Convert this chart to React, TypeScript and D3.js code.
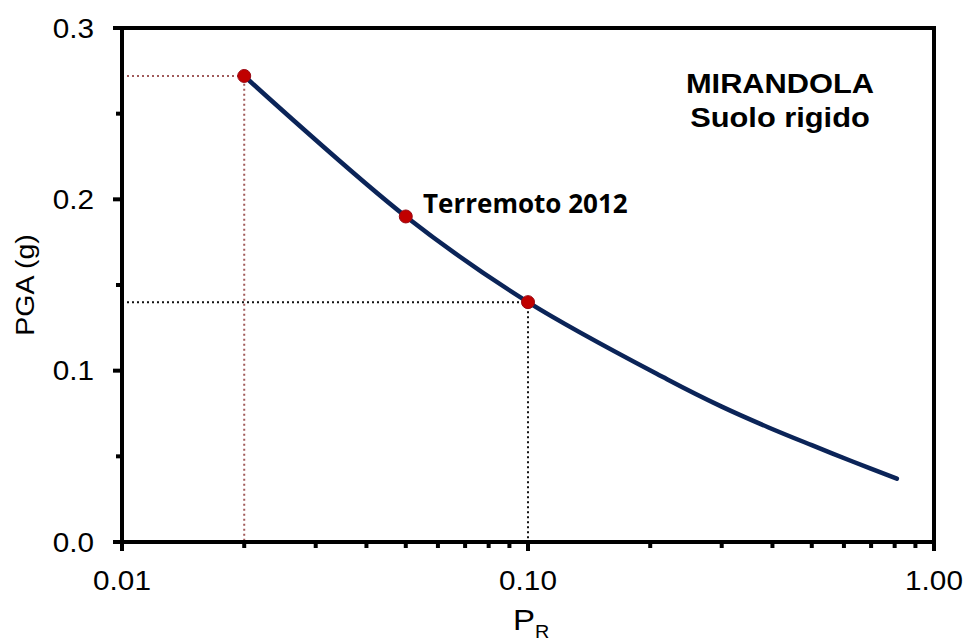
import React from "react";
import * as d3 from "d3";

const prValues = [0.02, 0.05, 0.1, 0.22, 0.3, 0.39, 0.5, 0.63, 0.81];
const pgaValues = [0.272, 0.19, 0.14, 0.095, 0.079, 0.067, 0.0565, 0.047, 0.037];
const markerPR = [0.02, 0.05, 0.1];
const markerPGA = [0.272, 0.19, 0.14];
const yTicks = [0.0, 0.1, 0.2, 0.3];
const yMinor = [0.05, 0.15, 0.25];
const xTicks = [0.01, 0.1, 1.0];
const xTickLabels = ["0.01", "0.10", "1.00"];

const W = 980;
const H = 642;
const L = 122, R = 934, T = 28, B = 542;
const SX = 1.1;

export default function App() {
  const x = d3.scaleLog().domain([0.01, 1]).range([L, R]);
  const y = d3.scaleLinear().domain([0, 0.3]).range([B, T]);
  const pts = prValues.map((p, i) => [p, pgaValues[i]] as [number, number]);
  const line = d3
    .line<[number, number]>()
    .x((d) => x(d[0]))
    .y((d) => y(d[1]))
    .curve(d3.curveCatmullRom.alpha(0.5));
  const minorX: number[] = [];
  for (const dec of [0.01, 0.1]) for (let k = 2; k <= 9; k++) minorX.push(dec * k);

  const axisFont = "'Liberation Sans', Arial, sans-serif";
  return (
    <svg width={W} height={H} style={{ position: "absolute", left: 0, top: 0, background: "#fff" }}>
      <rect x={0} y={0} width={W} height={H} fill="#fff" />
      {/* reference dotted lines */}
      <path
        d={`M${x(0.01)},${y(markerPGA[0])}H${x(markerPR[0])}V${y(0)}`}
        fill="none"
        stroke="#a05a5a"
        strokeWidth={2}
        strokeDasharray="2 3"
      />
      <path
        d={`M${x(0.01)},${y(markerPGA[2])}H${x(markerPR[2])}V${y(0)}`}
        fill="none"
        stroke="#111"
        strokeWidth={2}
        strokeDasharray="2 3"
      />
      {/* curve */}
      <path d={line(pts) || ""} fill="none" stroke="#0b2458" strokeWidth={4.5} strokeLinecap="round" />
      {markerPR.map((p, i) => (
        <circle key={i} cx={x(p)} cy={y(markerPGA[i])} r={6.5} fill="#c00000" stroke="#9a0a14" strokeWidth={1} />
      ))}
      {/* frame */}
      <rect x={L} y={T} width={R - L} height={B - T} fill="none" stroke="#000" strokeWidth={4} />
      {/* y ticks */}
      {yTicks.map((t) => (
        <line key={"yt" + t} x1={L - 9} x2={L} y1={y(t)} y2={y(t)} stroke="#000" strokeWidth={4} />
      ))}
      {yMinor.map((t) => (
        <line key={"ym" + t} x1={L - 6} x2={L} y1={y(t)} y2={y(t)} stroke="#000" strokeWidth={4} />
      ))}
      {yTicks.map((t) => (
        <text
          key={"yl" + t}
          transform={`translate(${L - 28},${y(t) + 9.5}) scale(${SX},1)`}
          textAnchor="end"
          fontFamily={axisFont}
          fontSize={27}
        >
          {t.toFixed(1)}
        </text>
      ))}
      {/* x ticks */}
      {xTicks.map((t) => (
        <line key={"xt" + t} x1={x(t)} x2={x(t)} y1={B} y2={B + 9} stroke="#000" strokeWidth={4} />
      ))}
      {minorX.map((t) => (
        <line key={"xm" + t} x1={x(t)} x2={x(t)} y1={B} y2={B + 6} stroke="#000" strokeWidth={4} />
      ))}
      {xTicks.map((t, i) => (
        <text
          key={"xl" + t}
          transform={`translate(${x(t)},${590}) scale(${SX},1)`}
          textAnchor="middle"
          fontFamily={axisFont}
          fontSize={27}
        >
          {xTickLabels[i]}
        </text>
      ))}
      {/* axis titles */}
      <text
        transform={`translate(${34},${(T + B) / 2}) rotate(-90) scale(${SX},1)`}
        textAnchor="middle"
        fontFamily={axisFont}
        fontSize={26}
      >
        PGA (g)
      </text>
      <text transform={`translate(${513},${630}) scale(${SX},1)`} fontFamily={axisFont} fontSize={30}>
        P
        <tspan fontSize={18} dy={8}>
          R
        </tspan>
      </text>
      {/* annotations */}
      <text
        transform={`translate(${780},${93}) scale(${SX},1)`}
        textAnchor="middle"
        fontFamily={axisFont}
        fontWeight="bold"
        fontSize={28}
      >
        MIRANDOLA
      </text>
      <text
        transform={`translate(${780},${127}) scale(${SX},1)`}
        textAnchor="middle"
        fontFamily={axisFont}
        fontWeight="bold"
        fontSize={28}
      >
        Suolo rigido
      </text>
      <text x={423} y={213} fontFamily="'Open Sans', sans-serif" fontWeight="bold" fontSize={26}>
        Terremoto 2012
      </text>
    </svg>
  );
}
